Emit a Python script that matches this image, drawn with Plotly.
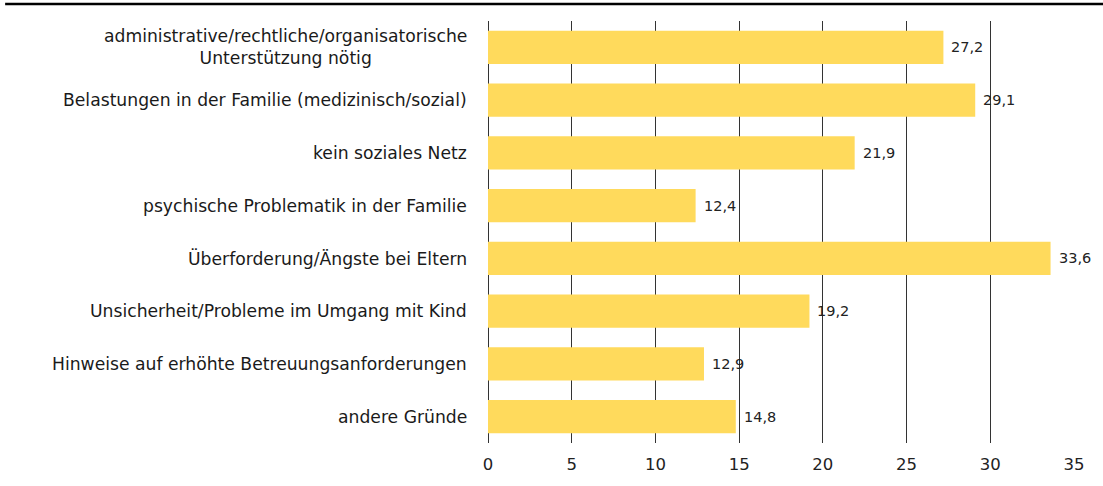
import plotly.graph_objects as go

categories = [
    "administrative/rechtliche/organisatorische<br>Unterstützung nötig",
    "Belastungen in der Familie (medizinisch/sozial)",
    "kein soziales Netz",
    "psychische Problematik in der Familie",
    "Überforderung/Ängste bei Eltern",
    "Unsicherheit/Probleme im Umgang mit Kind",
    "Hinweise auf erhöhte Betreuungsanforderungen",
    "andere Gründe",
]
values = [27.2, 29.1, 21.9, 12.4, 33.6, 19.2, 12.9, 14.8]
x_ticks = [0, 5, 10, 15, 20, 25, 30, 35]

FONT = "DejaVu Sans"
fig = go.Figure()
fig.add_trace(go.Bar(
    y=list(range(len(categories))), x=values, orientation="h",
    marker=dict(color="#FFDA5C", line=dict(width=0)),
    width=0.63, hoverinfo="skip",
))

for i, (c, v) in enumerate(zip(categories, values)):
    fig.add_annotation(x=0, xref="paper", y=i, yref="y", text=c, showarrow=False,
                       xanchor="right", xshift=-19, align="center",
                       font=dict(family=FONT, size=17.2, color="#1a1a1a"))
    fig.add_annotation(x=v, xref="x", y=i, yref="y", text=f"{v:.1f}".replace(".", ","),
                       showarrow=False, xanchor="left", xshift=6,
                       font=dict(family=FONT, size=14.5, color="#222"))

fig.add_shape(type="line", xref="paper", yref="paper", x0=-0.824, x1=1.05,
              y0=1.04, y1=1.04, line=dict(color="#000", width=2.5))

fig.update_xaxes(range=[0, 35], tickvals=x_ticks, ticktext=[str(t) for t in x_ticks],
                 showgrid=True, gridcolor="#333", gridwidth=1, zeroline=True,
                 zerolinecolor="#333", zerolinewidth=1, showline=False,
                 tickfont=dict(family=FONT, size=16.5, color="#222"), ticks="",
                 ticklabelstandoff=9, fixedrange=True)
fig.update_yaxes(range=[len(categories) - 0.5, -0.5], showticklabels=False,
                 showgrid=False, zeroline=False, fixedrange=True)

fig.update_layout(
    width=1103, height=486, margin=dict(l=488, r=29, t=21, b=34),
    plot_bgcolor="white", paper_bgcolor="white", showlegend=False,
    bargap=0.37,
)
fig.write_html("out.html", config={"displayModeBar": False})
with open("out.html", encoding="utf-8") as f:
    html = f.read()
html = html.replace("<head>", "<head><style>html,body{margin:0;padding:0;}</style>", 1)
with open("out.html", "w", encoding="utf-8") as f:
    f.write(html)
